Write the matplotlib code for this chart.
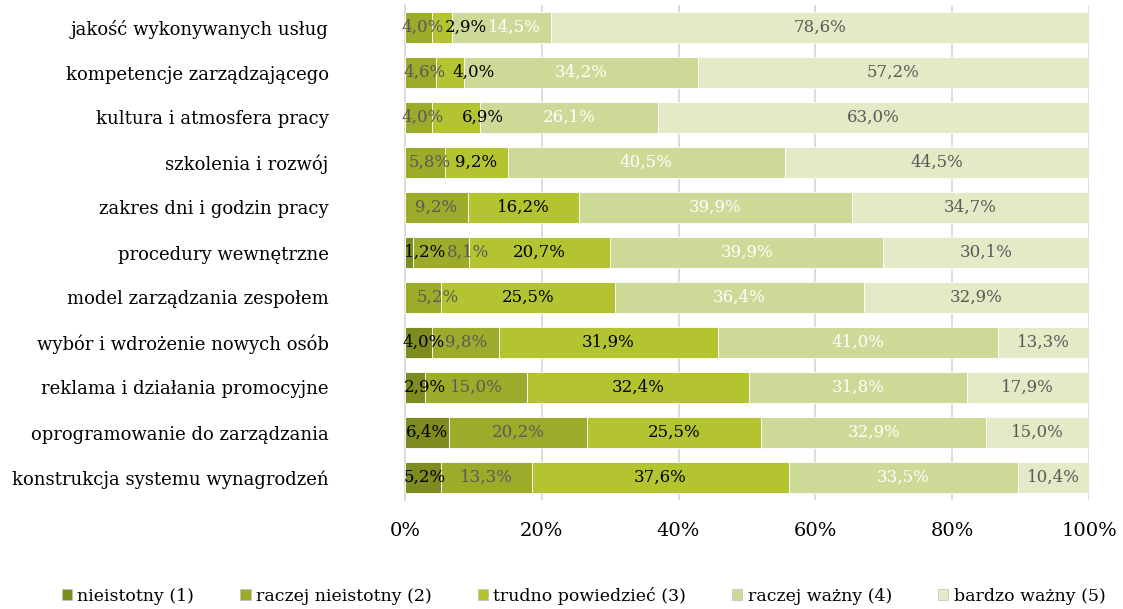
import matplotlib
matplotlib.use("Agg")
import matplotlib.pyplot as plt
from matplotlib.patches import Patch
import numpy as np

categories = [
    "jakość wykonywanych usług",
    "kompetencje zarządzającego",
    "kultura i atmosfera pracy",
    "szkolenia i rozwój",
    "zakres dni i godzin pracy",
    "procedury wewnętrzne",
    "model zarządzania zespołem",
    "wybór i wdrożenie nowych osób",
    "reklama i działania promocyjne",
    "oprogramowanie do zarządzania",
    "konstrukcja systemu wynagrodzeń",
]

series_names = [
    "nieistotny (1)",
    "raczej nieistotny (2)",
    "trudno powiedzieć (3)",
    "raczej ważny (4)",
    "bardzo ważny (5)",
]

nieistotny = [0.0, 0.0, 0.0, 0.0, 0.0, 1.2, 0.0, 4.0, 2.9, 6.4, 5.2]
raczej_nieistotny = [4.0, 4.6, 4.0, 5.8, 9.2, 8.1, 5.2, 9.8, 15.0, 20.2, 13.3]
trudno_powiedziec = [2.9, 4.0, 6.9, 9.2, 16.2, 20.7, 25.5, 31.9, 32.4, 25.5, 37.6]
raczej_wazny = [14.5, 34.2, 26.1, 40.5, 39.9, 39.9, 36.4, 41.0, 31.8, 32.9, 33.5]
bardzo_wazny = [78.6, 57.2, 63.0, 44.5, 34.7, 30.1, 32.9, 13.3, 17.9, 15.0, 10.4]

x_ticks = [0, 20, 40, 60, 80, 100]
x_tick_labels = ["0%", "20%", "40%", "60%", "80%", "100%"]

colors = ["#7e8b1f", "#9dab2b", "#b3c430", "#cdd996", "#e3eac6"]
label_colors = ["#000000", "#595959", "#000000", "#ffffff", "#595959"]

# sideways nudges (in percent units) for labels of narrow segments: (row, series) -> shift
label_nudge = {
    (0, 1): 0.5, (0, 2): 3.4, (0, 3): 1.9,
    (1, 1): 0.6, (1, 2): 3.4,
    (2, 1): 0.5, (2, 2): 4.0,
    (3, 1): 0.7,
    (5, 0): 2.3, (5, 1): 3.9,
    (6, 1): 2.2,
    (7, 0): 0.7,
    (8, 0): 1.5,
    (10, 0): 0.3,
}

plt.rcParams["font.family"] = ["DejaVu Serif"]

fig = plt.figure(figsize=(11.23, 6.09), dpi=100)
ax = fig.add_axes([405 / 1123, 1 - 500 / 609, 684 / 1123, 495 / 609])

data = [nieistotny, raczej_nieistotny, trudno_powiedziec, raczej_wazny, bardzo_wazny]
y = np.arange(len(categories))
left = np.zeros(len(categories))
for si, (vals, col, lcol) in enumerate(zip(data, colors, label_colors)):
    vals = np.array(vals)
    ax.barh(y, vals, left=left, height=0.67, color=col,
            edgecolor="#ffffff", linewidth=0.6, zorder=3)
    for yi, (l, v) in enumerate(zip(left, vals)):
        if v > 0:
            xc = l + v / 2 + label_nudge.get((yi, si), 0.0)
            ax.text(xc, yi, f"{v:.1f}%".replace(".", ","),
                    ha="center", va="center", fontsize=12, color=lcol, zorder=4)
    left += vals

ax.set_xlim(0, 100)
ax.set_ylim(len(categories) - 0.5, -0.5)
ax.set_xticks(x_ticks)
ax.set_xticklabels(x_tick_labels, fontsize=14)
ax.set_yticks(y)
ax.set_yticklabels(categories, fontsize=13)
ax.tick_params(axis="both", length=0)
ax.tick_params(axis="x", pad=16)
ax.tick_params(axis="y", pad=55)
ax.grid(axis="x", color="#d9d9d9", linewidth=1.3, zorder=0)
for side in ["top", "right", "bottom"]:
    ax.spines[side].set_visible(False)
ax.spines["left"].set_color("#d9d9d9")
ax.spines["left"].set_linewidth(1.3)

handles = [Patch(facecolor=c, edgecolor="#bfbfbf", linewidth=0.5) for c in colors]
fig.legend(handles, series_names, loc="center", bbox_to_anchor=(0.5196, 1 - 596 / 609),
           ncol=5, frameon=False, fontsize=12.5, handlelength=0.6, handleheight=0.6,
           handletextpad=0.3, columnspacing=2.65)

fig.savefig("out.png", dpi=100)
